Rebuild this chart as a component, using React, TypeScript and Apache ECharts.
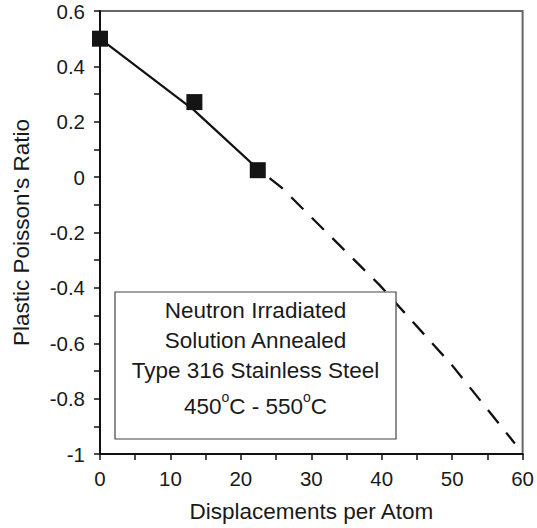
import React, { useEffect, useRef } from "react";
import * as echarts from "echarts";

const pointX = [0, 13.4, 22.4];
const pointY = [0.5, 0.271, 0.025];
const solidX = [0, 13.3, 22.4];
const solidY = [0.5, 0.243, 0.03];
const dashX = [22.4, 25.7, 39.7, 50, 58.9];
const dashY = [0.03, -0.036, -0.39, -0.68, -0.962];
const boxLines = ["Neutron Irradiated", "Solution Annealed", "Type 316 Stainless Steel"];
const xTitle = "Displacements per Atom";
const yTitle = "Plastic Poisson's Ratio";

const FONT = "'Liberation Sans', Arial, sans-serif";
const TXT = "#1a1a1a";

export default function App() {
  const ref = useRef<HTMLDivElement>(null);
  useEffect(() => {
    if (!ref.current) return;
    const chart = echarts.init(ref.current, undefined, { renderer: "svg" });
    const zip = (xs: number[], ys: number[]) => xs.map((x, i) => [x, ys[i]]);
    const boxLeft = 115, boxTop = 292, boxW = 281, boxH = 147;
    const cx = boxLeft + boxW / 2;
    const lineYs = [310, 340, 370];
    chart.setOption({
      animation: false,
      backgroundColor: "#fff",
      textStyle: { fontFamily: FONT },
      grid: {
        left: 100, right: 11, top: 11, bottom: 74,
        show: true, borderColor: "#666", borderWidth: 2, backgroundColor: "transparent",
      },
      xAxis: {
        type: "value", min: 0, max: 60, interval: 10,
        name: xTitle, nameLocation: "middle", nameGap: 46,
        nameTextStyle: { fontSize: 22.5, color: TXT, fontFamily: FONT },
        axisLine: { show: true, onZero: false, lineStyle: { color: "#111", width: 2 } },
        axisTick: { show: true, inside: false, length: 6, lineStyle: { color: "#111", width: 1.5 } },
        minorTick: { show: true, splitNumber: 2, length: 6, lineStyle: { color: "#111", width: 1.5 } },
        splitLine: { show: false },
        axisLabel: { fontSize: 20.5, color: TXT, margin: 14, fontFamily: FONT },
      },
      yAxis: {
        type: "value", min: -1, max: 0.6, interval: 0.2,
        name: yTitle, nameLocation: "middle", nameGap: 67, nameRotate: 90,
        nameTextStyle: { fontSize: 22.5, color: TXT, fontFamily: FONT },
        axisLine: { show: true, onZero: false, lineStyle: { color: "#111", width: 2 } },
        axisTick: { show: true, inside: false, length: 6, lineStyle: { color: "#111", width: 1.5 } },
        minorTick: { show: true, splitNumber: 2, length: 6, lineStyle: { color: "#111", width: 1.5 } },
        splitLine: { show: false },
        axisLabel: {
          fontSize: 20.5, color: TXT, margin: 15, fontFamily: FONT,
          formatter: (v: number) => String(Math.round(v * 10) / 10),
        },
      },
      series: [
        {
          type: "line", data: zip(solidX, solidY), symbol: "none",
          lineStyle: { color: "#111", width: 2.2 }, z: 3,
        },
        {
          type: "line", data: zip(dashX, dashY), symbol: "none",
          lineStyle: { color: "#111", width: 2.3, type: [17, 12], dashOffset: 14 }, z: 3,
        },
        {
          type: "scatter", data: zip(pointX, pointY), symbol: "rect", symbolSize: 16,
          itemStyle: { color: "#141414", opacity: 1 }, z: 4,
        },
      ],
      graphic: [
        {
          type: "rect", z: 10,
          shape: { x: boxLeft, y: boxTop, width: boxW, height: boxH },
          style: { fill: "#fff", stroke: "#444", lineWidth: 1.2 },
        },
        ...boxLines.map((t, i) => ({
          type: "text", z: 11, x: cx, y: lineYs[i],
          style: {
            text: t, fontSize: 22.5, fontFamily: FONT, fill: TXT,
            textAlign: "center", textVerticalAlign: "middle",
          },
        })),
        {
          type: "text", z: 11, x: cx, y: 404,
          style: {
            text: "{a|450}{s|o}{a|C - 550}{s|o}{a|C}",
            textAlign: "center", textVerticalAlign: "middle",
            rich: {
              a: { fontSize: 22.5, fontFamily: FONT, fill: TXT, color: TXT, lineHeight: 28, verticalAlign: "bottom" },
              s: { fontSize: 14, fontFamily: FONT, fill: TXT, color: TXT, lineHeight: 28, verticalAlign: "top" },
            },
          },
        },
      ],
    });
    return () => chart.dispose();
  }, []);
  return <div ref={ref} style={{ width: 537, height: 528, position: "absolute", left: 0, top: 0 }} />;
}
